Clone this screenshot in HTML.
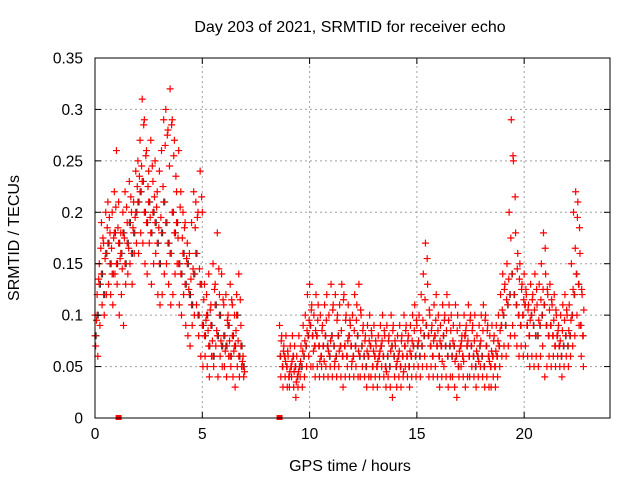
<!DOCTYPE html>
<html><head><meta charset="utf-8"><style>
html,body{margin:0;padding:0;background:#fff}
svg{display:block;font-family:"Liberation Sans",sans-serif}
</style></head><body>
<svg id="chart" width="640" height="480" viewBox="0 0 640 480">
<rect x="0" y="0" width="640" height="480" fill="#fff"/>
<g id="grid"></g>
<g id="pts"></g>
<rect x="95" y="58" width="515" height="360" fill="none" stroke="#000" stroke-width="1"/>
<g id="ticks"></g>
<text x="350" y="32" text-anchor="middle" font-size="16">Day 203 of 2021, SRMTID for receiver echo</text>
<text x="350" y="471" text-anchor="middle" font-size="16">GPS time / hours</text>
<text transform="translate(19,238) rotate(-90)" text-anchor="middle" font-size="16">SRMTID / TECUs</text>
</svg>
<script>
const xTicks=[0,5,10,15,20];
const yTicks=[0,0.05,0.1,0.15,0.2,0.25,0.3,0.35];
const yTickLabels=["0","0.05","0.1","0.15","0.2","0.25","0.3","0.35"];
const seg1Start=0.0, seg2Start=8.6, step=0.1;
const seg1A=[.10,.12,.15,.19,.17,.20,.21,.18,.20,.22,.26,.21,.18,.20,.22,.19,.23,.20,.21,.24,.25,.27,.31,.29,.26,.24,.27,.23,.25,.22,.24,.26,.29,.30,.28,.32,.29,.27,.22,.26,.22,.20,.19,.17,.16,.19,.22,.21,.20,.24,.20,.13,.12,.14,.11,.15,.13,.18,.12,.14,.11,.12,.10,.13,.11,.10,.12,.14,.09,.06];
const seg1B=[.08,.10,.13,.14,.12,.16,.17,.15,.14,.18,.15,.17,.16,.18,.15,.17,.19,.16,.18,.20,.21,.22,.23,.20,.19,.21,.18,.20,.19,.17,.15,.18,.21,.19,.17,.16,.20,.18,.19,.15,.14,.16,.13,.15,.12,.11,.14,.16,.10,.13,.09,.08,.10,.07,.09,.06,.11,.08,.10,.07,.08,.07,.09,.06,.08,.07,.10,.06,.07,.05];
const seg1C=[.07,.06,.09,.11,.10,.12,.13,.12,.11,.14,.13,.10,.12,.09,.13,.14,.15,.13,.16,.17,.16,.18,.17,.15,.14,.17,.13,.15,.16,.12,.11,.12,.14,.15,.13,.11,.12,.14,.15,.11,.10,.12,.09,.08,.07,.09,.10,.11,.08,.06,.05,.06,.05,.04,.06,.05,.07,.04,.06,.05,.05,.04,.06,.05,.04,.03,.05,.04,.05,.04];
const seg1D=[.095,.135,.165,.175,.155,.185,.195,.165,.175,.205,.185,.155,.145,.175,.205,.165,.215,.185,.195,.225,.235,.245,.285,.255,.225,.195,.245,.215,.205,.185,.195,.225,.265,.275,.245,.285,.255,.235,.175,.205,.175,.185,.155,.125,.135,.145,.185,.195,.145,.215,.115,.095,.085,.105,.075,.125,.085,.145,.075,.115,.065,.095,.075,.115,.065,.085,.075,.115,.055,.045];
const seg2A=[.09,.08,.07,.08,.06,.07,.08,.07,.06,.08,.07,.09,.10,.12,.13,.11,.10,.12,.11,.10,.09,.11,.12,.10,.13,.11,.12,.10,.11,.13,.12,.10,.11,.09,.10,.12,.11,.13,.10,.09,.08,.09,.10,.08,.09,.07,.08,.09,.10,.08,.09,.08,.10,.09,.07,.08,.09,.08,.10,.09,.08,.09,.10,.11,.09,.10,.12,.14,.17,.13,.10,.09,.11,.12,.10,.09,.11,.10,.12,.11,.10,.09,.11,.10,.09,.08,.10,.09,.11,.10,.09,.10,.08,.09,.10,.11,.10,.09,.08,.09,.08,.09,.10,.12,.14,.13,.15,.20,.29,.25,.18,.16,.15,.13,.14,.12,.11,.13,.12,.14,.11,.13,.15,.18,.14,.12,.13,.11,.12,.10,.09,.10,.11,.12,.10,.11,.15,.20,.22,.21,.16,.12];
const seg2B=[.06,.05,.06,.05,.04,.05,.06,.05,.04,.05,.05,.06,.07,.08,.09,.08,.07,.08,.07,.06,.07,.08,.07,.06,.08,.07,.06,.08,.07,.06,.07,.06,.08,.07,.06,.07,.08,.06,.07,.06,.05,.06,.07,.05,.06,.05,.06,.07,.06,.05,.06,.05,.07,.06,.05,.06,.05,.06,.07,.06,.05,.06,.07,.06,.07,.06,.07,.08,.09,.08,.07,.06,.08,.07,.06,.07,.08,.07,.06,.07,.06,.07,.06,.05,.07,.06,.08,.07,.06,.07,.06,.05,.06,.07,.06,.05,.07,.06,.05,.06,.05,.06,.07,.09,.10,.09,.11,.12,.14,.12,.11,.10,.09,.10,.11,.09,.08,.10,.09,.08,.08,.09,.10,.11,.09,.08,.09,.08,.07,.08,.07,.06,.07,.08,.07,.08,.10,.12,.14,.13,.09,.08];
const seg2C=[.04,.03,.04,.03,.03,.04,.03,.02,.03,.04,.03,.04,.05,.06,.05,.05,.04,.05,.04,.05,.04,.05,.04,.05,.04,.05,.04,.05,.04,.03,.04,.05,.04,.05,.04,.05,.04,.04,.05,.04,.03,.04,.04,.03,.04,.03,.04,.05,.04,.03,.04,.03,.02,.04,.03,.04,.03,.04,.05,.04,.03,.04,.05,.04,.05,.04,.05,.06,.05,.04,.05,.04,.05,.04,.03,.04,.05,.04,.03,.04,.04,.03,.02,.04,.05,.04,.03,.04,.04,.05,.04,.03,.04,.05,.04,.03,.04,.03,.03,.04,.03,.04,.05,.06,.07,.06,.07,.08,.09,.08,.07,.06,.07,.06,.07,.06,.05,.06,.05,.06,.05,.06,.07,.04,.05,.06,.05,.06,.05,.06,.05,.04,.05,.06,.05,.06,.07,.08,.10,.09,.06,.05];
const seg2D=[.075,.065,.055,.065,.045,.055,.045,.035,.045,.055,.065,.075,.085,.095,.105,.065,.085,.095,.055,.085,.055,.095,.065,.075,.105,.055,.095,.065,.085,.115,.095,.075,.095,.055,.085,.095,.065,.105,.085,.075,.065,.075,.085,.065,.075,.055,.065,.075,.085,.045,.075,.065,.085,.075,.055,.065,.075,.045,.085,.075,.065,.075,.085,.095,.075,.085,.095,.115,.155,.105,.085,.075,.095,.085,.075,.055,.095,.085,.095,.085,.075,.055,.085,.065,.075,.055,.085,.075,.095,.085,.075,.065,.055,.075,.085,.095,.085,.055,.065,.075,.065,.075,.085,.105,.125,.115,.135,.175,.255,.215,.145,.135,.125,.115,.125,.105,.095,.115,.105,.125,.095,.115,.125,.165,.125,.105,.115,.095,.105,.085,.075,.085,.095,.105,.085,.095,.125,.165,.195,.185,.125,.105];
const zeroMarks=[1.1,8.6];

const X0=95,X1=610,Y0=418,Y1=58,XMAX=24,YMAX=0.35;
const sx=t=>X0+(X1-X0)*t/XMAX;
const sy=v=>Y0-(Y0-Y1)*v/YMAX;
const NS="http://www.w3.org/2000/svg";
const grid=document.getElementById('grid'),ticks=document.getElementById('ticks'),pts=document.getElementById('pts');
function mk(tag,attrs,parent){const e=document.createElementNS(NS,tag);for(const k in attrs)e.setAttribute(k,attrs[k]);parent.appendChild(e);return e;}
xTicks.forEach(t=>{
  const x=sx(t);
  if(t>0){const g=mk('line',{x1:x,y1:Y0,x2:x,y2:Y1,stroke:'#a0a0a0','stroke-dasharray':'2,3'},grid);
  
  }
  mk('line',{x1:x,y1:Y0,x2:x,y2:Y0-6,stroke:'#000'},ticks);
  mk('line',{x1:x,y1:Y1,x2:x,y2:Y1+6,stroke:'#000'},ticks);
  const tx=mk('text',{x:x,y:Y0+21,'text-anchor':'middle','font-size':'15.5'},ticks);
  tx.textContent=String(t);
  
  
});
yTicks.forEach((v,i)=>{
  const y=sy(v);
  if(i>0&&i<yTicks.length-1){const g=mk('line',{x1:X0,y1:y,x2:X1,y2:y,stroke:'#a0a0a0','stroke-dasharray':'2,3'},grid);
  
  }
  mk('line',{x1:X0,y1:y,x2:X0+6,y2:y,stroke:'#000'},ticks);
  mk('line',{x1:X1,y1:y,x2:X1-6,y2:y,stroke:'#000'},ticks);
  const tx=mk('text',{x:X0-12,y:y+5.5,'text-anchor':'end','font-size':'15.5'},ticks);
  tx.textContent=yTickLabels[i];
  
  
});
function plus(t,v,col){
  const x=sx(t),y=sy(v);
  const p=mk('path',{d:`M${x-3.5},${y}H${x+3.5}M${x},${y-3.5}V${y+3.5}`,stroke:col,'stroke-width':'1.2',fill:'none'},pts);
  
  
}
function drawSeg(start,arr,col,off){arr.forEach((v,i)=>plus(start+i*step+off,v,col));}
drawSeg(seg1Start,seg1B,'#333',0.05);
drawSeg(seg2Start,seg2B,'#333',0.05);
[[seg1A,0],[seg1B,0],[seg1C,0.03],[seg1D,0.07]].forEach(([a,o])=>drawSeg(seg1Start,a,'#f00',o));
[[seg2A,0],[seg2B,0.03],[seg2C,0.06],[seg2D,0.08]].forEach(([a,o])=>drawSeg(seg2Start,a,'#f00',o));
zeroMarks.forEach(t=>{
  const r=mk('rect',{x:sx(t)-3,y:Y0-3,width:6,height:5,fill:'#f00'},pts);
  
  
});
</script>
</body></html>
